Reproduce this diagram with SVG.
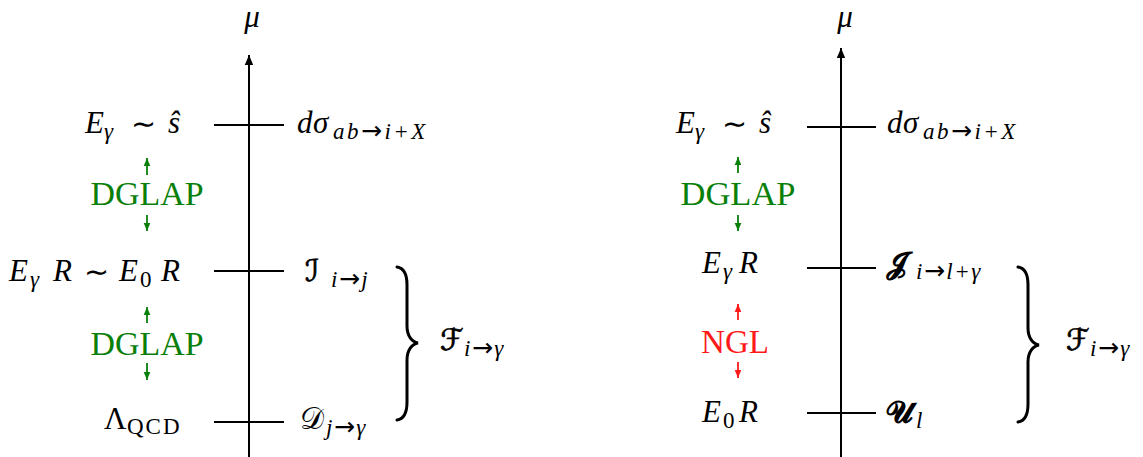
<svg xmlns="http://www.w3.org/2000/svg" width="1143" height="457" viewBox="0 0 1143 457">
<style>
text{font-family:"Liberation Serif","DejaVu Serif",serif;fill:#000}
.m{font-style:italic;font-size:31px}
.r{font-style:normal;font-size:31px}
.t{font-family:"DejaVu Sans",sans-serif;font-style:normal;font-size:30px}
.s{font-style:italic;font-size:23px}
.sr{font-style:normal;font-size:23px}
.ar{font-family:"DejaVu Sans",sans-serif;font-style:normal;font-size:25px}
.scr{font-family:"DejaVu Serif","DejaVu Sans","Liberation Serif",serif;font-style:normal;font-size:30px}
.thk{stroke:#000;stroke-width:0.7}
.lab{font-style:normal;font-size:33px;text-anchor:middle}
.g{fill:#0a800a}
.red{fill:#ff1a1a}
.ax{stroke:#000;stroke-width:2;fill:none}
.tk{stroke:#000;stroke-width:2}
.ga{stroke:#0a800a;stroke-width:1.8}
.ra{stroke:#ff1a1a;stroke-width:1.8}
.br{stroke:#000;stroke-width:3;fill:none;stroke-linecap:round}
</style>
<defs>
<marker id="axh" viewBox="0 0 10 10" refX="10" refY="5" markerWidth="10" markerHeight="10" markerUnits="userSpaceOnUse" orient="auto"><path d="M0,0.8 L10,5 L0,9.2 z" fill="#000"/></marker>
<marker id="gh" viewBox="0 0 8 8" refX="8" refY="4" markerWidth="8" markerHeight="8" markerUnits="userSpaceOnUse" orient="auto"><path d="M0,0.7 L8,4 L0,7.3 z" fill="#0a800a"/></marker>
<marker id="rh" viewBox="0 0 8 8" refX="8" refY="4" markerWidth="8" markerHeight="8" markerUnits="userSpaceOnUse" orient="auto"><path d="M0,0.7 L8,4 L0,7.3 z" fill="#ff1a1a"/></marker>
</defs>

<g id="connectors">
<line class="ax" x1="249" y1="457" x2="249" y2="55" marker-end="url(#axh)"/>
<line class="tk" x1="214" y1="125" x2="284" y2="125"/>
<line class="tk" x1="214" y1="271" x2="284" y2="271"/>
<line class="tk" x1="214" y1="422" x2="284" y2="422"/>
<line class="ga" x1="147" y1="175" x2="147" y2="158" marker-end="url(#gh)"/>
<line class="ga" x1="147" y1="215" x2="147" y2="231" marker-end="url(#gh)"/>
<line class="ga" x1="147" y1="323" x2="147" y2="307" marker-end="url(#gh)"/>
<line class="ga" x1="147" y1="363" x2="147" y2="380" marker-end="url(#gh)"/>
<path class="br" d="M397,267 C404,268 407,274 407,285 L407,326 C407,336 412,342 418,343 C412,344 407,350 407,360 L407,402 C407,413 404,419 397,420"/>

<line class="ax" x1="841" y1="457" x2="841" y2="48" marker-end="url(#axh)"/>
<line class="tk" x1="807" y1="127" x2="876" y2="127"/>
<line class="tk" x1="807" y1="268" x2="876" y2="268"/>
<line class="tk" x1="807" y1="413" x2="876" y2="413"/>
<line class="ga" x1="738" y1="173" x2="738" y2="157" marker-end="url(#gh)"/>
<line class="ga" x1="738" y1="215" x2="738" y2="231" marker-end="url(#gh)"/>
<line class="ra" x1="738" y1="320" x2="738" y2="304" marker-end="url(#rh)"/>
<line class="ra" x1="738" y1="362" x2="738" y2="378" marker-end="url(#rh)"/>
<path class="br" d="M1018,267 C1025,268 1028,274 1028,285 L1028,328 C1028,338 1033,344 1039,345 C1033,346 1028,352 1028,362 L1028,404 C1028,415 1025,421 1018,422"/>
</g>

<g id="l-mu"><text class="m" x="252" y="27" text-anchor="middle">μ</text></g>
<g id="l-top-left">
<text class="m" x="85" y="133">E</text><text class="s" x="104" y="139">γ</text>
<text class="t" x="131" y="134">∼</text><text class="m" x="168" y="133">ŝ</text>
</g>
<g id="l-top-right">
<text class="m" x="297" y="133">d</text><text class="m" x="313" y="133">σ</text>
<text class="s" x="333" y="139" letter-spacing="2.5">ab<tspan class="ar">→</tspan>i+X</text>
</g>
<g id="l-dglap1"><text class="lab g" x="147" y="205" textLength="113" lengthAdjust="spacingAndGlyphs">DGLAP</text></g>
<g id="l-mid-left">
<text class="m" x="9" y="281">E</text><text class="s" x="30" y="287">γ</text>
<text class="m" x="53" y="281">R</text><text class="t" x="84" y="282">∼</text>
<text class="m" x="119" y="281">E</text><text class="sr" x="140" y="287">0</text>
<text class="m" x="161" y="281">R</text>
</g>
<g id="l-mid-right">
<text class="scr thk" x="305" y="281">ℐ</text>
<text class="s" x="331" y="287" letter-spacing="1.5">i<tspan class="ar">→</tspan>j</text>
</g>
<g id="l-dglap2"><text class="lab g" x="147" y="355" textLength="113" lengthAdjust="spacingAndGlyphs">DGLAP</text></g>
<g id="l-bot-left">
<text class="r" x="104" y="429">Λ</text>
<text class="sr" x="127" y="434" letter-spacing="2">QCD</text>
</g>
<g id="l-bot-right">
<text class="scr" x="300" y="429">𝒟</text>
<text class="s" x="326" y="435" letter-spacing="1.5">j<tspan class="ar">→</tspan>γ</text>
</g>
<g id="l-frag">
<text class="scr thk" x="440" y="350">ℱ</text>
<text class="s" x="464" y="356" letter-spacing="1.5">i<tspan class="ar">→</tspan>γ</text>
</g>

<g id="r-mu"><text class="m" x="845" y="27" text-anchor="middle">μ</text></g>
<g id="r-top-left">
<text class="m" x="676" y="133">E</text><text class="s" x="695" y="139">γ</text>
<text class="t" x="722" y="134">∼</text><text class="m" x="759" y="133">ŝ</text>
</g>
<g id="r-top-right">
<text class="m" x="887" y="133">d</text><text class="m" x="903" y="133">σ</text>
<text class="s" x="923" y="139" letter-spacing="2.5">ab<tspan class="ar">→</tspan>i+X</text>
</g>
<g id="r-dglap"><text class="lab g" x="738" y="205" textLength="115" lengthAdjust="spacingAndGlyphs">DGLAP</text></g>
<g id="r-mid-left">
<text class="m" x="702" y="273">E</text><text class="s" x="723" y="279">γ</text>
<text class="m" x="739" y="273">R</text>
</g>
<g id="r-mid-right">
<text class="scr" x="886" y="273" font-weight="bold">𝓙</text>
<text class="s" x="916" y="279" letter-spacing="1.5">i<tspan class="ar">→</tspan>l+γ</text>
</g>
<g id="r-ngl"><text class="lab red" x="735" y="353" textLength="68" lengthAdjust="spacingAndGlyphs">NGL</text></g>
<g id="r-bot-left">
<text class="m" x="702" y="422">E</text><text class="sr" x="723" y="428">0</text>
<text class="m" x="739" y="422">R</text>
</g>
<g id="r-bot-right">
<text class="scr" x="886" y="422" font-weight="bold">𝓤</text>
<text class="s" x="916" y="428">l</text>
</g>
<g id="r-frag">
<text class="scr thk" x="1066" y="350">ℱ</text>
<text class="s" x="1090" y="356" letter-spacing="1.5">i<tspan class="ar">→</tspan>γ</text>
</g>
</svg>
